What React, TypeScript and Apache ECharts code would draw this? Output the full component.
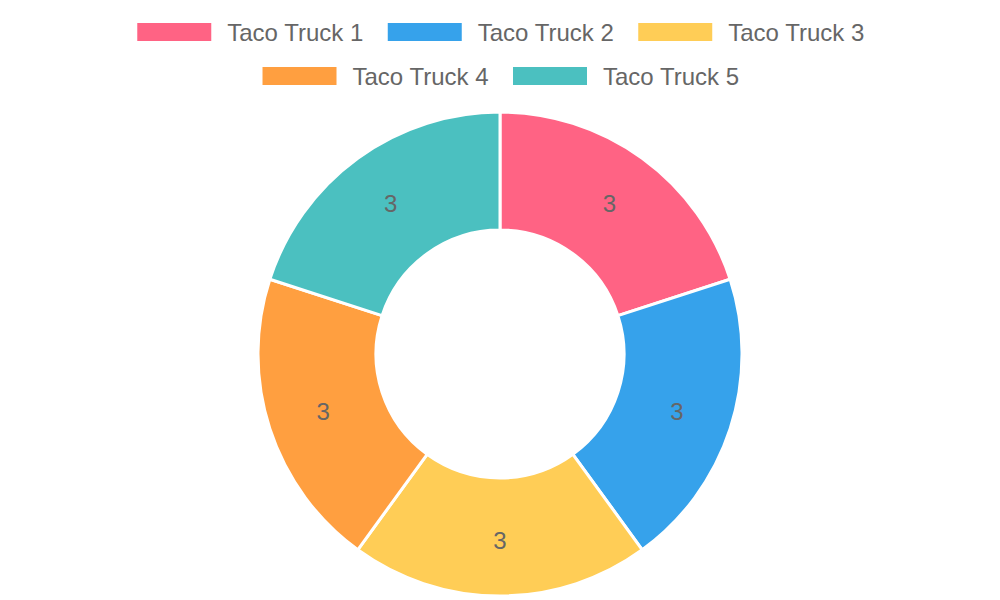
import { useEffect, useRef } from "react";
import * as echarts from "echarts";

const TRUCKS = ["Taco Truck 1", "Taco Truck 2", "Taco Truck 3", "Taco Truck 4", "Taco Truck 5"];
const VALUES = [3, 3, 3, 3, 3];
const COLORS = ["#ff6384", "#36a2eb", "#ffcd56", "#ff9f40", "#4bc0c0"];

const legendBase = {
  left: "center",
  itemWidth: 76,
  itemHeight: 20,
  itemGap: 22,
  icon: "rect",
  padding: 0,
  textStyle: {
    color: "#666",
    fontSize: 24,
    fontFamily: "Liberation Sans, Arial, sans-serif",
    padding: [0, 0, 0, 10],
  },
};

export default function App() {
  const chartRef = useRef<HTMLDivElement>(null);

  useEffect(() => {
    document.body.style.margin = "0";
    if (!chartRef.current) return;
    const chart = echarts.init(chartRef.current, null, { renderer: "svg" });

    chart.setOption({
      animation: false,
      color: COLORS,
      legend: [
        { ...legendBase, top: 20, data: TRUCKS.slice(0, 3) },
        { ...legendBase, top: 64, data: TRUCKS.slice(3) },
      ],
      series: [
        {
          type: "pie",
          center: [500, 354],
          radius: [124, 242],
          startAngle: 90,
          clockwise: true,
          itemStyle: { borderColor: "#fff", borderWidth: 3 },
          label: {
            show: true,
            position: "inside",
            formatter: "{c}",
            color: "#666",
            fontSize: 24,
            fontFamily: "Liberation Sans, Arial, sans-serif",
          },
          labelLine: { show: false },
          emphasis: { scale: false },
          data: TRUCKS.map((name, i) => ({ name, value: VALUES[i] })),
        },
      ],
    });

    return () => chart.dispose();
  }, []);

  return <div ref={chartRef} style={{ width: 1000, height: 600 }} />;
}
